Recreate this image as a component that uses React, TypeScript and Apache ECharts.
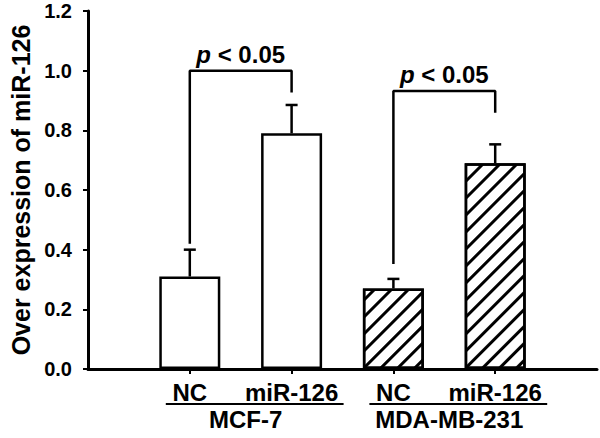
import React, { useEffect, useRef } from "react";
import * as echarts from "echarts";

// ---- data ----
const categories = ["", "NC", "miR-126", "NC", "miR-126", ""];
const means: (number | null)[] = [null, 0.31, 0.79, 0.27, 0.69, null];
const errors: (number | null)[] = [null, 0.09, 0.095, 0.032, 0.063, null];
const hatched = [false, false, false, true, true, false];
const groupNames = ["MCF-7", "MDA-MB-231"];
const groupFrom = [1, 3];
const groupTo = [2, 4];
const bracketTop = [1.0, 0.932];
const bracketLeftEnd = [0.42, 0.352];
const bracketRightEnd = [0.927, 0.859];
const bracketLabel = ["p", "p"];
const bracketRest = [" < 0.05", " < 0.05"];
const yMin = 0;
const yMax = 1.2;
const yInterval = 0.2;

const FONT = "'Liberation Sans', Arial, sans-serif";

export default function App() {
  const ref = useRef<HTMLDivElement>(null);
  useEffect(() => {
    if (!ref.current) return;
    document.body.style.margin = "0";
    const chart = echarts.init(ref.current, null, { renderer: "svg" });

    const hatchDecal = {
      symbol: "rect",
      symbolSize: 1,
      dashArrayX: [1, 0],
      dashArrayY: [3, 9],
      rotation: -Math.PI / 4,
      color: "#000",
      backgroundColor: "#fff",
    };

    const barData = means.map((v, i) =>
      v == null
        ? "-"
        : {
            value: v,
            itemStyle: hatched[i] ? { decal: hatchDecal } : {},
          }
    );

    const errData: number[][] = [];
    means.forEach((v, i) => {
      if (v != null && errors[i] != null) errData.push([i, v, errors[i] as number]);
    });

    const bracketSeries = groupFrom.map((f, k) => ({
      type: "line",
      data: [
        [f, bracketLeftEnd[k]],
        [f, bracketTop[k]],
        [groupTo[k], bracketTop[k]],
        [groupTo[k], bracketRightEnd[k]],
      ],
      symbol: "none",
      lineStyle: { color: "#000", width: 2.5 },
      z: 5,
      silent: true,
    }));

    chart.setOption({
      animation: false,
      grid: { left: 88, right: -3, top: 11, bottom: 69, containLabel: false },
      xAxis: {
        type: "category",
        data: categories,
        boundaryGap: false,
        axisLine: { show: true, lineStyle: { color: "#000", width: 3 } },
        axisTick: {
          show: true,
          interval: (i: number) => i > 0 && i < categories.length - 1,
          length: 5,
          lineStyle: { color: "#000", width: 2 },
        },
        axisLabel: {
          interval: 0,
          color: "#000",
          fontFamily: FONT,
          fontWeight: "bold",
          fontSize: 24,
          margin: 11,
        },
        splitLine: { show: false },
      },
      yAxis: {
        type: "value",
        min: yMin,
        max: yMax,
        interval: yInterval,
        name: "Over expression of miR-126",
        nameLocation: "middle",
        nameGap: 54,
        nameRotate: 90,
        nameTextStyle: {
          color: "#000",
          fontFamily: FONT,
          fontWeight: "bold",
          fontSize: 25,
        },
        axisLine: { show: true, lineStyle: { color: "#000", width: 3 } },
        axisTick: { show: true, length: 5, lineStyle: { color: "#000", width: 2 } },
        axisLabel: {
          color: "#000",
          fontFamily: FONT,
          fontWeight: "bold",
          fontSize: 20,
          margin: 16,
          formatter: (v: number) => v.toFixed(1),
        },
        splitLine: { show: false },
      },
      series: [
        {
          type: "bar",
          data: barData,
          barWidth: 61,
          itemStyle: { color: "#fff", borderColor: "#000", borderWidth: 2.5 },
          z: 2,
          silent: true,
        },
        {
          type: "custom",
          data: errData,
          z: 4,
          silent: true,
          renderItem: (params: any, api: any) => {
            const x = api.value(0);
            const y = api.value(1);
            const e = api.value(2);
            const p0 = api.coord([x, y]);
            const p1 = api.coord([x, y + e]);
            return {
              type: "group",
              children: [
                {
                  type: "line",
                  shape: { x1: p0[0], y1: p0[1], x2: p1[0], y2: p1[1] },
                  style: { stroke: "#000", lineWidth: 2.5 },
                },
                {
                  type: "line",
                  shape: { x1: p1[0] - 6, y1: p1[1], x2: p1[0] + 6, y2: p1[1] },
                  style: { stroke: "#000", lineWidth: 2.5 },
                },
              ],
            };
          },
        },
        ...bracketSeries,
      ],
    });

    // annotations placed through the chart's own coordinate conversion
    const graphics: any[] = [];
    groupFrom.forEach((f, k) => {
      const a = chart.convertToPixel({ gridIndex: 0 }, [f, bracketTop[k]]) as number[];
      const b = chart.convertToPixel({ gridIndex: 0 }, [groupTo[k], bracketTop[k]]) as number[];
      const cx = (a[0] + b[0]) / 2;
      graphics.push({
        type: "text",
        x: cx,
        y: a[1] - 4,
        style: {
          text: `{i|${bracketLabel[k]}}{n|${bracketRest[k]}}`,
          align: "center",
          verticalAlign: "bottom",
          rich: {
            i: { fontFamily: FONT, fontWeight: "bold", fontStyle: "italic", fontSize: 24, fill: "#000" },
            n: { fontFamily: FONT, fontWeight: "bold", fontSize: 24, fill: "#000" },
          },
        },
      });
      const base = chart.convertToPixel({ gridIndex: 0 }, [f, 0]) as number[];
      const lineY = base[1] + 35;
      graphics.push({
        type: "line",
        shape: { x1: a[0] - 24, y1: lineY, x2: b[0] + 52, y2: lineY },
        style: { stroke: "#000", lineWidth: 2 },
      });
      graphics.push({
        type: "text",
        x: cx + 5,
        y: lineY + 3,
        style: {
          text: groupNames[k],
          align: "center",
          verticalAlign: "top",
          fontFamily: FONT,
          fontWeight: "bold",
          fontSize: 24,
          fill: "#000",
        },
      });
    });
    chart.setOption({ graphic: graphics });

    return () => chart.dispose();
  }, []);

  return <div ref={ref} style={{ width: 600, height: 438 }} />;
}
